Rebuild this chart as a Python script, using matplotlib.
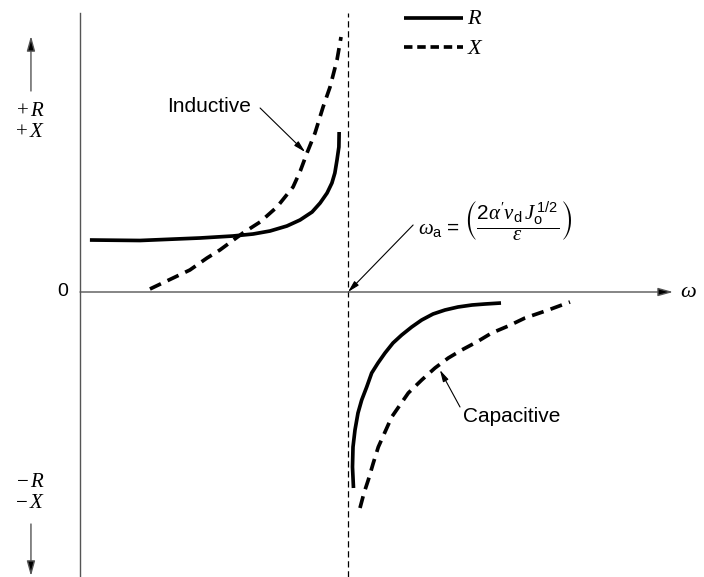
import matplotlib
matplotlib.use('Agg')
import matplotlib.pyplot as plt

plt.rcParams['font.family'] = ['Liberation Sans', 'DejaVu Sans']
plt.rcParams['mathtext.fontset'] = 'custom'
plt.rcParams['mathtext.rm'] = 'Liberation Serif'
plt.rcParams['mathtext.it'] = 'Liberation Serif:italic'
plt.rcParams['mathtext.sf'] = 'Liberation Sans'
plt.rcParams['mathtext.fallback'] = 'stix'

# omega in units of omega_a, R and X in arbitrary units
# below the transit-time frequency (inductive side)
w_r_low = [0.037, 0.224, 0.448, 0.571, 0.646, 0.709, 0.772, 0.821, 0.866, 0.896,
           0.922, 0.940, 0.951, 0.959, 0.966, 0.967]
r_low = [0.52, 0.515, 0.54, 0.56, 0.58, 0.61, 0.66, 0.72, 0.80, 0.89,
         0.99, 1.09, 1.19, 1.32, 1.45, 1.60]
w_x_low = [0.261, 0.410, 0.474, 0.522, 0.608, 0.672, 0.735, 0.795, 0.822, 0.847,
           0.877, 0.907, 0.933, 0.959, 0.974]
x_low = [0.03, 0.22, 0.34, 0.42, 0.59, 0.70, 0.85, 1.05, 1.21, 1.39,
         1.59, 1.85, 2.05, 2.32, 2.55]

# above omega_a (capacitive side)
w_r_high = [1.0205, 1.0168, 1.0187, 1.0261, 1.0373, 1.0511, 1.0698, 1.0884, 1.1119, 1.1381,
            1.1679, 1.2004, 1.2377, 1.2750, 1.3172, 1.3619, 1.4104, 1.4627, 1.5112, 1.5709]
r_high = [-1.96, -1.75, -1.55, -1.38, -1.21, -1.08, -0.95, -0.81, -0.71, -0.61,
          -0.51, -0.43, -0.35, -0.28, -0.22, -0.18, -0.15, -0.13, -0.12, -0.11]
w_x_high = [1.0448, 1.0597, 1.0757, 1.0944, 1.1131, 1.1381, 1.1631, 1.1940, 1.2250, 1.2750,
            1.3246, 1.3743, 1.4243, 1.4802, 1.5362, 1.5981, 1.6604, 1.7474, 1.8284]
x_high = [-2.16, -2.01, -1.88, -1.71, -1.55, -1.40, -1.25, -1.13, -1.01, -0.88,
          -0.76, -0.66, -0.58, -0.50, -0.41, -0.34, -0.26, -0.18, -0.10]

w_a = 1.0

fig = plt.figure(figsize=(7.04, 5.77), dpi=100)
ax = fig.add_axes([0, 0, 1, 1])
ax.set_xlim(-0.2985, 2.3284)
ax.set_ylim(-2.85, 2.92)
ax.axis('off')

lw = 2.65
dash = (3.3, 2.0)
ax.plot(w_r_low, r_low, color='k', lw=lw, solid_capstyle='butt', solid_joinstyle='round')
ax.plot(w_r_high, r_high, color='k', lw=lw, solid_capstyle='butt', solid_joinstyle='round')
ax.plot(w_x_low, x_low, color='k', lw=lw, dashes=dash, dash_capstyle='butt', dash_joinstyle='round')
ax.plot(w_x_high, x_high, color='k', lw=lw, dashes=dash, dash_capstyle='butt', dash_joinstyle='round')

# axes
axc = '#555555'
head = '-|>,head_length=0.9,head_width=0.25'
ax.plot([0, 0], [-2.85, 2.79], color=axc, lw=1.0)
ax.plot([w_a, w_a], [-2.85, 2.79], color='k', lw=0.9, dashes=(5, 3))
ax.annotate('', xy=(2.213, 0), xytext=(0, 0),
            arrowprops=dict(arrowstyle=head, fc='k', ec=axc, lw=1.0, shrinkA=0, shrinkB=0))
ax.text(2.269, 0, r'$\omega$', fontsize=16, ha='center', va='center')
ax.text(-0.063, 0, '0', fontsize=14, ha='center', va='center')

# +R/+X and -R/-X direction arrows
ax.annotate('', xy=(-0.183, 2.56), xytext=(-0.183, 2.01),
            arrowprops=dict(arrowstyle=head, fc='k', ec=axc, lw=1.0, shrinkA=0, shrinkB=0))
ax.annotate('', xy=(-0.183, -2.84), xytext=(-0.183, -2.32),
            arrowprops=dict(arrowstyle=head, fc='k', ec=axc, lw=1.0, shrinkA=0, shrinkB=0))
ax.text(-0.187, 1.81, r'$+\,R$', fontsize=15, ha='center', va='center')
ax.text(-0.187, 1.60, r'$+\,X$', fontsize=15, ha='center', va='center')
ax.text(-0.187, -1.90, r'$-\,R$', fontsize=15, ha='center', va='center')
ax.text(-0.187, -2.11, r'$-\,X$', fontsize=15, ha='center', va='center')

# legend
ax.plot([1.209, 1.429], [2.74, 2.74], color='k', lw=lw, solid_capstyle='butt')
ax.plot([1.209, 1.429], [2.45, 2.45], color='k', lw=lw, dashes=(2.3, 1.3), dash_capstyle='butt')
ax.text(1.445, 2.74, r'$R$', fontsize=16, ha='left', va='center')
ax.text(1.445, 2.44, r'$X$', fontsize=16, ha='left', va='center')

# labels with pointers
ptr = '-|>,head_length=0.7,head_width=0.18'
ax.text(0.325, 1.85, 'Inductive', fontsize=15, ha='left', va='center')
ax.annotate('', xy=(0.840, 1.40), xytext=(0.672, 1.84),
            arrowprops=dict(arrowstyle=ptr, fc='k', ec='k', lw=0.8, shrinkA=0, shrinkB=0))
ax.text(1.429, -1.25, 'Capacitive', fontsize=15, ha='left', va='center')
ax.annotate('', xy=(1.343, -0.78), xytext=(1.418, -1.15),
            arrowprops=dict(arrowstyle=ptr, fc='k', ec='k', lw=0.8, shrinkA=0, shrinkB=0))

ax.text(1.262, 0.70,
        r'$\omega_{\mathsf{a}}\mathsf{\,=\,}\left(\dfrac{\mathsf{2}\alpha^{\prime}v_{\mathsf{d}}\,J_{\mathsf{o}}^{\,\mathsf{1/2}}}{\varepsilon}\right)$',
        fontsize=15, ha='left', va='center')
ax.annotate('', xy=(w_a, 0), xytext=(1.243, 0.67),
            arrowprops=dict(arrowstyle=ptr, fc='k', ec='k', lw=0.8, shrinkA=0, shrinkB=0))

fig.savefig('out.png', dpi=100)
